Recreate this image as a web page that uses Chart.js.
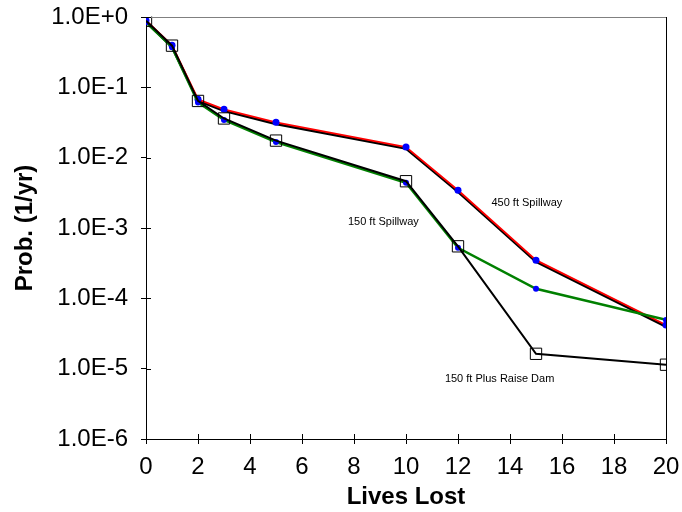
<!DOCTYPE html>
<html>
<head>
<meta charset="utf-8">
<script src="https://cdn.jsdelivr.net/npm/chart.js@4.4.0/dist/chart.umd.min.js"></script>
<style>
  html, body { margin: 0; padding: 0; background: #fff; }
  #wrap { width: 682px; height: 512px; }
</style>
</head>
<body>
<div id="wrap"><canvas id="chart1"></canvas></div>
<script>
// lives lost (x) and annual probability (y)
const livesLost = [0, 1, 2, 3, 5, 10, 12, 15, 20];
const spill450 = [0.87, 0.385, 0.066, 0.0475, 0.031, 0.0138, 0.00335, 0.00034, 0.0000407];
const spill150 = [0.87, 0.385, 0.063, 0.0355, 0.0172, 0.00455, 0.00054, 0.000141, 0.000051];
const raiseDam = [0.87, 0.385, 0.063, 0.0355, 0.0172, 0.00455, 0.00054, 0.000016, 0.0000112];
const yTicks = [1, 1e-1, 1e-2, 1e-3, 1e-4, 1e-5, 1e-6];
const xTicks = [0, 2, 4, 6, 8, 10, 12, 14, 16, 18, 20];

// text labels placed in data units
const notes = [
  { text: '450 ft Spillway', x: 14.65, y: 0.00226 },
  { text: '150 ft Spillway', x: 9.13, y: 0.00121 },
  { text: '150 ft Plus Raise Dam', x: 13.6, y: 0.0000071 }
];

function pts(vals) {
  return livesLost.map((x, i) => ({ x: x, y: vals[i] }));
}

// shift a dataset by a pixel or two so the black twin line shows beside it
const shiftPlugin = {
  id: 'shift',
  beforeDatasetDraw(chart, args) {
    const dy = chart.data.datasets[args.index].shiftY || 0;
    chart.ctx.save();
    chart.ctx.translate(0, dy);
  },
  afterDatasetDraw(chart) {
    chart.ctx.restore();
  }
};

// frame, inner tick marks and text notes
const framePlugin = {
  id: 'frame',
  afterDraw(chart) {
    const ctx = chart.ctx;
    const a = chart.chartArea;
    const xs = chart.scales.x, ys = chart.scales.y;
    ctx.save();
    ctx.lineWidth = 1;
    ctx.strokeStyle = '#808080';
    ctx.beginPath();
    ctx.moveTo(a.left, a.top + 0.5);
    ctx.lineTo(a.right, a.top + 0.5);
    ctx.stroke();
    ctx.strokeStyle = '#000';
    ctx.beginPath();
    ctx.moveTo(a.right + 0.5, a.top);
    ctx.lineTo(a.right + 0.5, a.bottom);
    ctx.stroke();
    ctx.beginPath();
    xTicks.forEach(v => {
      const px = Math.round(xs.getPixelForValue(v)) + 0.5;
      ctx.moveTo(px, a.bottom);
      ctx.lineTo(px, a.bottom - 5);
    });
    yTicks.forEach(v => {
      const py = Math.round(ys.getPixelForValue(v)) + 0.5;
      ctx.moveTo(a.left, py);
      ctx.lineTo(a.left + 5, py);
    });
    ctx.stroke();
    ctx.fillStyle = '#000';
    ctx.font = '11px "Liberation Sans", Arial, sans-serif';
    ctx.textAlign = 'center';
    ctx.textBaseline = 'middle';
    notes.forEach(n => {
      ctx.fillText(n.text, xs.getPixelForValue(n.x), ys.getPixelForValue(n.y));
    });
    ctx.restore();
  }
};

const ctx = document.getElementById('chart1').getContext('2d');

const chart1 = new Chart(ctx, {
  type: 'line',
  data: {
    datasets: [
      {
        label: '450 ft Spillway (black)',
        data: pts(spill450),
        borderColor: '#000',
        borderWidth: 2.5,
        pointRadius: 0,
        shiftY: 0.8,
        order: 6
      },
      {
        label: '450 ft Spillway',
        data: pts(spill450),
        borderColor: '#ff0000',
        borderWidth: 1.8,
        pointRadius: 3.5,
        pointBackgroundColor: '#0000ff',
        pointBorderColor: '#0000ff',
        pointBorderWidth: 0,
        shiftY: -0.8,
        order: 5
      },
      {
        label: '150 ft Spillway',
        data: pts(spill150),
        borderColor: '#008000',
        borderWidth: 2.5,
        pointRadius: 3,
        pointBackgroundColor: '#0000ff',
        pointBorderColor: '#0000ff',
        pointBorderWidth: 0,
        shiftY: 1,
        order: 4
      },
      {
        label: '150 ft Plus Raise Dam',
        data: pts(raiseDam),
        borderColor: '#000',
        borderWidth: 2,
        pointStyle: 'rect',
        pointRadius: 8,
        pointBackgroundColor: 'rgba(0,0,0,0)',
        pointBorderColor: '#000',
        pointBorderWidth: 1,
        shiftY: -0.5,
        order: 3
      }
    ]
  },
  options: {
    responsive: true,
    maintainAspectRatio: false,
    animation: false,
    layout: {
      padding: { top: 17, right: 16, left: 0, bottom: 0 }
    },
    plugins: {
      legend: { display: false },
      tooltip: { enabled: false }
    },
    scales: {
      x: {
        type: 'linear',
        min: 0,
        max: 20,
        afterBuildTicks(scale) {
          scale.ticks = xTicks.map(v => ({ value: v }));
        },
        afterFit(scale) {
          scale.height = 73;
          scale.paddingLeft = 0;
          scale.paddingRight = 0;
        },
        border: { color: '#000', width: 1 },
        grid: {
          display: true,
          drawOnChartArea: false,
          drawTicks: true,
          tickLength: 5,
          color: '#000'
        },
        ticks: {
          color: '#000',
          padding: 9,
          maxRotation: 0,
          font: { family: '"Liberation Sans", Arial, sans-serif', size: 24 }
        },
        title: {
          display: true,
          text: 'Lives Lost',
          color: '#000',
          padding: { top: 0, bottom: 0 },
          font: { family: '"Liberation Sans", Arial, sans-serif', size: 24, weight: 'bold' }
        }
      },
      y: {
        type: 'logarithmic',
        min: 1e-6,
        max: 1,
        afterBuildTicks(scale) {
          scale.ticks = yTicks.map(v => ({ value: v }));
        },
        afterFit(scale) {
          scale.width = 146;
          scale.paddingTop = 0;
          scale.paddingBottom = 0;
        },
        border: { color: '#000', width: 1 },
        grid: {
          display: true,
          drawOnChartArea: false,
          drawTicks: true,
          tickLength: 5,
          color: '#000'
        },
        ticks: {
          color: '#000',
          padding: 13,
          font: { family: '"Liberation Sans", Arial, sans-serif', size: 24 },
          callback: v => Number(v).toExponential(1).toUpperCase()
        },
        title: {
          display: true,
          text: 'Prob. (1/yr)',
          color: '#000',
          padding: { top: 11, bottom: 0 },
          font: { family: '"Liberation Sans", Arial, sans-serif', size: 24, weight: 'bold' }
        }
      }
    }
  },
  plugins: [shiftPlugin, framePlugin]
});
</script>
</body>
</html>
